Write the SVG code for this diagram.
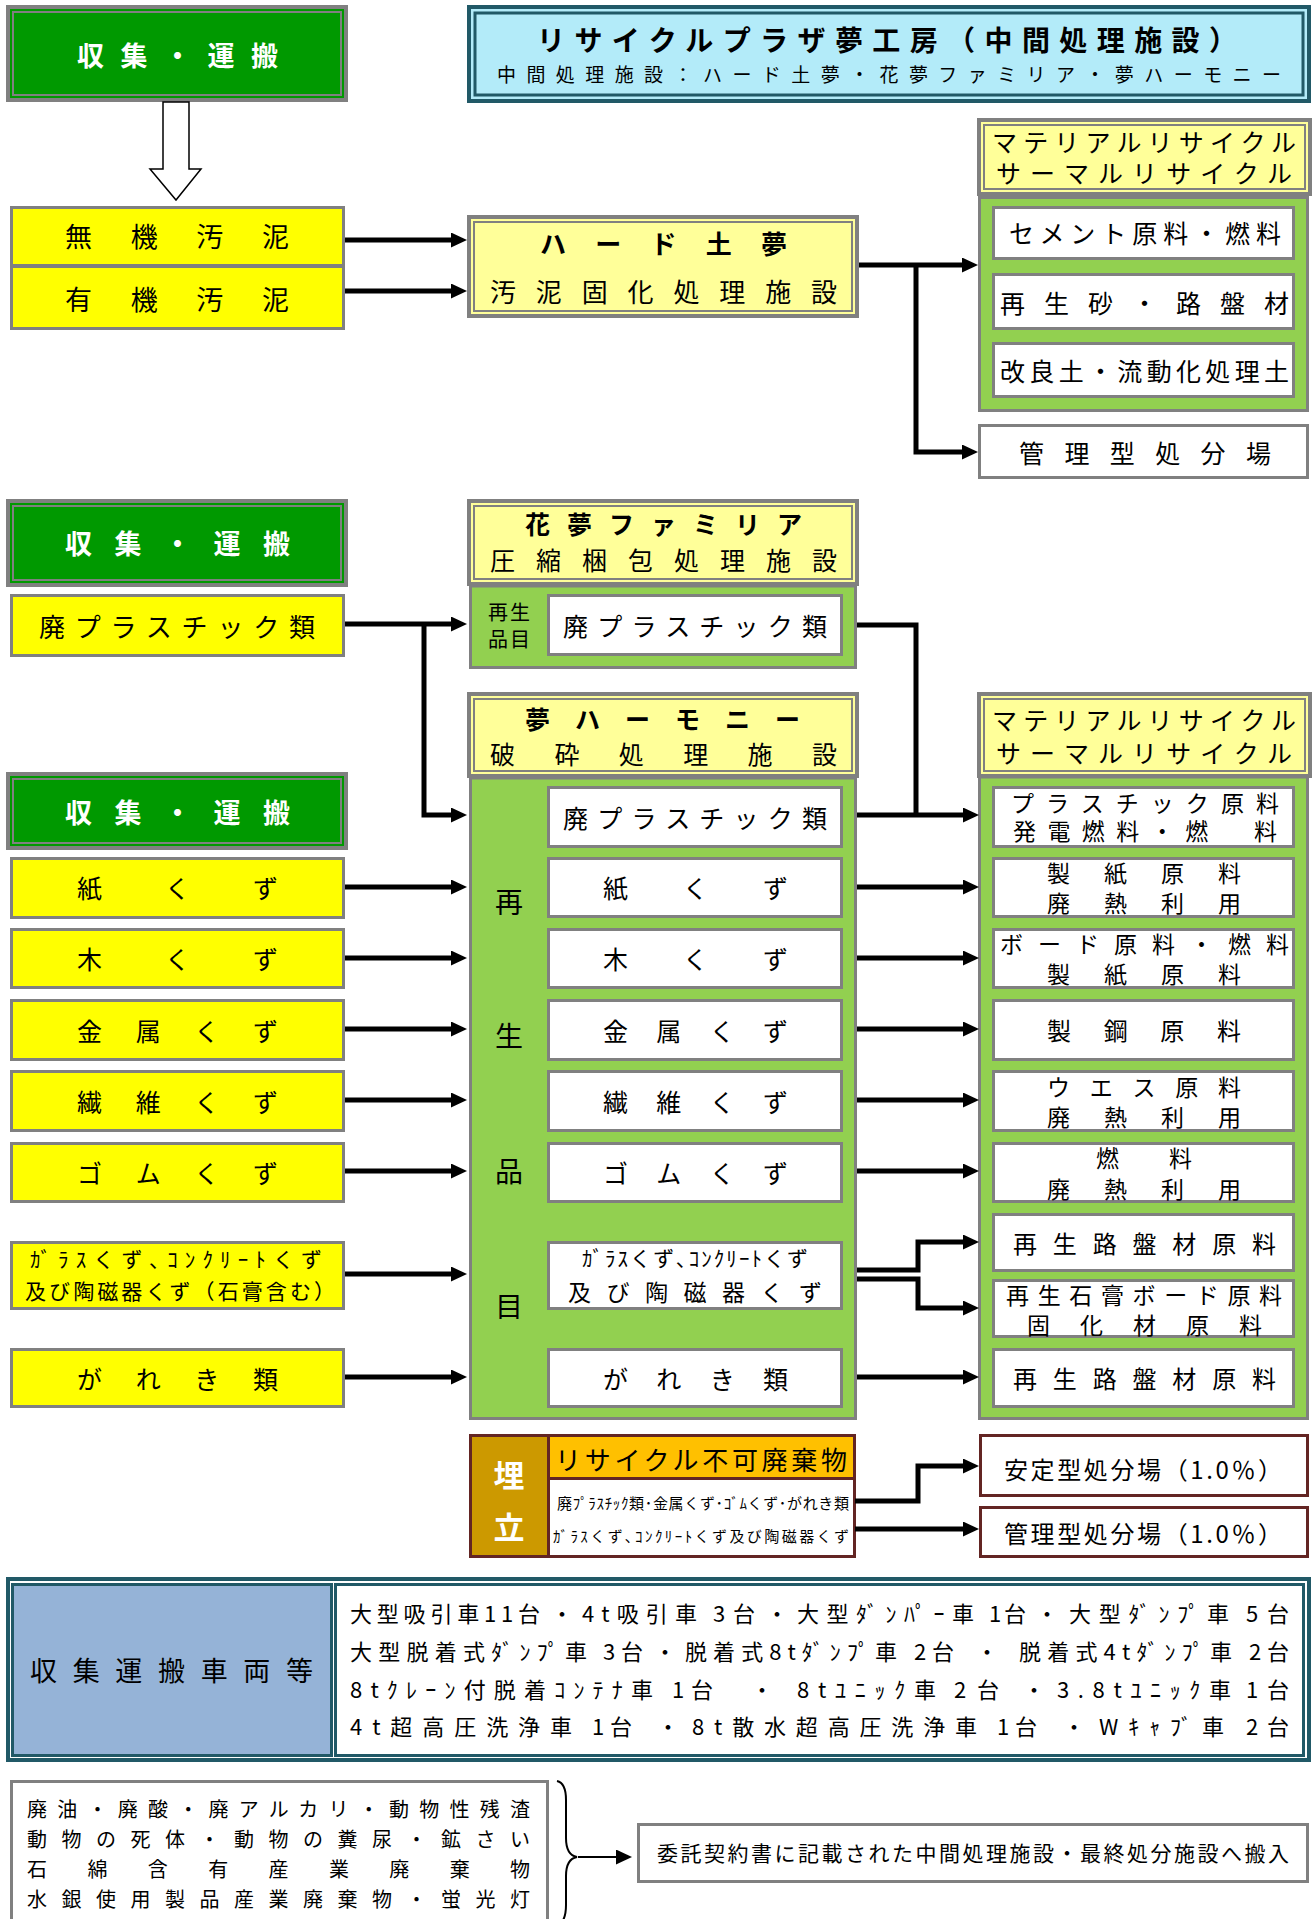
<svg xmlns="http://www.w3.org/2000/svg" width="1314" height="1919" viewBox="0 0 1314 1919">
<style>
.t{font-family:"Noto Sans CJK JP","Noto Sans CJK SC",sans-serif;dominant-baseline:central;fill:#000}
.b{font-weight:bold}
.wt{fill:#fff}
.g{fill:#009900;stroke:#808080;stroke-width:4}
.gi{fill:none;stroke:#808080;stroke-width:2}
.y{fill:#FFFF00;stroke:#808080;stroke-width:3}
.ly{fill:#FFFF99;stroke:#808080;stroke-width:4}
.lg{fill:#92D050;stroke:#808080;stroke-width:3}
.w{fill:#fff;stroke:#808080;stroke-width:3}
.tl{fill:#B3EBF9;stroke:#215967;stroke-width:4}
.tli{fill:none;stroke:#215967;stroke-width:3}
.m{stroke:#632523;stroke-width:3}
.c{fill:none;stroke:#000;stroke-width:5;stroke-linejoin:miter}
</style>
<defs>
<marker id="ah" viewBox="0 0 16 15" refX="6" refY="7.5" markerWidth="16" markerHeight="15" markerUnits="userSpaceOnUse" orient="auto"><path d="M0,0 L16,7.5 L0,15 z" fill="#000"/></marker>
<marker id="ah2" viewBox="0 0 16 15" refX="2" refY="7.5" markerWidth="16" markerHeight="15" markerUnits="userSpaceOnUse" orient="auto"><path d="M0,0 L16,7.5 L0,15 z" fill="#000"/></marker>
</defs>
<rect width="1314" height="1919" fill="#fff"/>

<!-- Title -->
<g id="title">
<rect class="tl" x="469" y="7" width="840" height="94"/>
<rect class="tli" x="475" y="13" width="828" height="82"/>
<text class="t b" x="537" y="39" font-size="28" textLength="700">リサイクルプラザ夢工房（中間処理施設）</text>
<text class="t" x="497" y="73" font-size="19" textLength="784">中間処理施設：ハード土夢・花夢ファミリア・夢ハーモニー</text>
</g>

<!-- Section 1 -->
<g id="collect1">
<rect class="g" x="8" y="7" width="338" height="93"/>
<rect class="gi" x="13" y="12" width="328" height="83"/>
<text class="t b wt" x="77" y="54" font-size="27" textLength="201">収集・運搬</text>
</g>
<g id="down-arrow">
<polygon points="163,102 189,102 189,169 201,169 176,200 150,169 163,169" fill="#fff" stroke="#000" stroke-width="1.5"/>
</g>
<g id="muki">
<rect class="y" x="11.5" y="207.5" width="332" height="58"/>
<text class="t" x="65" y="235" font-size="27" textLength="224">無機汚泥</text>
</g>
<g id="yuki">
<rect class="y" x="11.5" y="266.5" width="332" height="62"/>
<text class="t" x="65" y="298" font-size="27" textLength="224">有機汚泥</text>
</g>
<g id="hard">
<rect class="ly" x="469" y="217" width="388" height="99"/>
<rect class="gi" x="474" y="222" width="378" height="89"/>
<text class="t b" x="540" y="242" font-size="26" textLength="247">ハード土夢</text>
<text class="t" x="490" y="290" font-size="26" textLength="347">汚泥固化処理施設</text>
</g>
<g id="recycle1">
<rect class="lg" x="979.5" y="197.5" width="328" height="213"/>
<rect class="ly" x="979" y="120" width="331" height="74"/>
<rect class="gi" x="984" y="125" width="321" height="64"/>
<text class="t" x="992" y="141" font-size="25" textLength="304">マテリアルリサイクル</text>
<text class="t" x="996" y="172" font-size="25" textLength="296">サーマルリサイクル</text>
</g>
<g id="cement">
<rect class="w" x="993.5" y="207.5" width="300" height="51"/>
<text class="t" x="1009" y="232" font-size="25" textLength="272">セメント原料・燃料</text>
</g>
<g id="sand">
<rect class="w" x="993.5" y="274.5" width="300" height="54"/>
<text class="t" x="1000" y="302" font-size="25" textLength="289">再生砂・路盤材</text>
</g>
<g id="soil">
<rect class="w" x="993.5" y="343.5" width="300" height="53"/>
<text class="t" x="1000" y="370" font-size="25" textLength="289">改良土・流動化処理土</text>
</g>
<g id="kanri1">
<rect class="w" x="979.5" y="425.5" width="328" height="52"/>
<text class="t" x="1019" y="452" font-size="25" textLength="252">管理型処分場</text>
</g>

<!-- Section 2 -->
<g id="collect2">
<rect class="g" x="8" y="501" width="338" height="84"/>
<rect class="gi" x="13" y="506" width="328" height="74"/>
<text class="t b wt" x="65" y="542" font-size="27" textLength="225">収集・運搬</text>
</g>
<g id="plastic-in">
<rect class="y" x="11.5" y="595.5" width="332" height="60"/>
<text class="t" x="39" y="625" font-size="26" textLength="276">廃プラスチック類</text>
</g>
<g id="kamu">
<rect class="lg" x="470.5" y="586" width="385" height="81.5"/>
<rect class="ly" x="469" y="501" width="388" height="83"/>
<rect class="gi" x="474" y="506" width="378" height="73"/>
<text class="t b" x="525" y="523" font-size="25" textLength="277">花夢ファミリア</text>
<text class="t" x="490" y="559" font-size="25" textLength="347">圧縮梱包処理施設</text>
<text class="t" x="488" y="611" font-size="20" textLength="42">再生</text>
<text class="t" x="488" y="638" font-size="20" textLength="42">品目</text>
<rect class="w" x="548.5" y="595.5" width="293" height="59"/>
<text class="t" x="563" y="625" font-size="25" textLength="264">廃プラスチック類</text>
</g>
<g id="collect3">
<rect class="g" x="8" y="774" width="338" height="74"/>
<rect class="gi" x="13" y="779" width="328" height="64"/>
<text class="t b wt" x="65" y="811" font-size="27" textLength="225">収集・運搬</text>
</g>

<g id="inputs">
<rect class="y" x="11.5" y="858.5" width="332" height="59"/>
<text class="t" x="77" y="887" font-size="25" textLength="201">紙くず</text>
<rect class="y" x="11.5" y="929.5" width="332" height="58"/>
<text class="t" x="77" y="958" font-size="25" textLength="201">木くず</text>
<rect class="y" x="11.5" y="1000.5" width="332" height="59"/>
<text class="t" x="77" y="1030" font-size="25" textLength="201">金属くず</text>
<rect class="y" x="11.5" y="1071.5" width="332" height="59"/>
<text class="t" x="77" y="1101" font-size="25" textLength="201">繊維くず</text>
<rect class="y" x="11.5" y="1143.5" width="332" height="58"/>
<text class="t" x="77" y="1172" font-size="25" textLength="201">ゴムくず</text>
<rect class="y" x="11.5" y="1242.5" width="332" height="66"/>
<text class="t" x="30" y="1258" font-size="21" textLength="292">ｶﾞﾗｽくず､ｺﾝｸﾘｰﾄくず</text>
<text class="t" x="25" y="1290" font-size="21" textLength="310">及び陶磁器くず（石膏含む）</text>
<rect class="y" x="11.5" y="1349.5" width="332" height="57"/>
<text class="t" x="77" y="1378" font-size="25" textLength="201">がれき類</text>
</g>

<g id="harmony">
<rect class="lg" x="470.5" y="778" width="385" height="640.5"/>
<rect class="ly" x="469" y="694" width="388" height="82"/>
<rect class="gi" x="474" y="699" width="378" height="72"/>
<text class="t b" x="525" y="718" font-size="25" textLength="275">夢ハーモニー</text>
<text class="t" x="490" y="753" font-size="25" textLength="347">破砕処理施設</text>
<text class="t" x="509" y="901" font-size="28" text-anchor="middle">再</text>
<text class="t" x="509" y="1035" font-size="28" text-anchor="middle">生</text>
<text class="t" x="509" y="1170" font-size="28" text-anchor="middle">品</text>
<text class="t" x="509" y="1305" font-size="28" text-anchor="middle">目</text>
<rect class="w" x="548.5" y="787.5" width="293" height="59"/>
<text class="t" x="563" y="817" font-size="25" textLength="264">廃プラスチック類</text>
<rect class="w" x="548.5" y="858.5" width="293" height="58"/>
<text class="t" x="603" y="887" font-size="25" textLength="185">紙くず</text>
<rect class="w" x="548.5" y="929.5" width="293" height="58"/>
<text class="t" x="603" y="958" font-size="25" textLength="185">木くず</text>
<rect class="w" x="548.5" y="1000.5" width="293" height="59"/>
<text class="t" x="603" y="1030" font-size="25" textLength="185">金属くず</text>
<rect class="w" x="548.5" y="1071.5" width="293" height="59"/>
<text class="t" x="603" y="1101" font-size="25" textLength="185">繊維くず</text>
<rect class="w" x="548.5" y="1143.5" width="293" height="58"/>
<text class="t" x="603" y="1172" font-size="25" textLength="185">ゴムくず</text>
<rect class="w" x="548.5" y="1242.5" width="293" height="66"/>
<text class="t" x="582" y="1257" font-size="21" textLength="226">ｶﾞﾗｽくず､ｺﾝｸﾘｰﾄくず</text>
<text class="t" x="568" y="1291" font-size="23" textLength="254">及び陶磁器くず</text>
<rect class="w" x="548.5" y="1349.5" width="293" height="57"/>
<text class="t" x="603" y="1378" font-size="25" textLength="185">がれき類</text>
</g>

<g id="recycle2">
<rect class="lg" x="979.5" y="777" width="328" height="641.5"/>
<rect class="ly" x="979" y="694" width="331" height="82"/>
<rect class="gi" x="984" y="699" width="321" height="72"/>
<text class="t" x="992" y="719" font-size="25" textLength="304">マテリアルリサイクル</text>
<text class="t" x="996" y="752" font-size="25" textLength="296">サーマルリサイクル</text>
<rect class="w" x="993.5" y="787.5" width="300" height="59"/>
<text class="t" x="1011" y="802" font-size="23" textLength="268">プラスチック原料</text>
<text class="t" x="1013" y="830" font-size="23" textLength="264">発電燃料・燃　料</text>
<rect class="w" x="993.5" y="858.5" width="300" height="58"/>
<text class="t" x="1047" y="872" font-size="23" textLength="194">製紙原料</text>
<text class="t" x="1047" y="902" font-size="23" textLength="194">廃熱利用</text>
<rect class="w" x="993.5" y="929.5" width="300" height="58"/>
<text class="t" x="1000" y="943" font-size="23" textLength="289">ボード原料・燃料</text>
<text class="t" x="1047" y="973" font-size="23" textLength="194">製紙原料</text>
<rect class="w" x="993.5" y="1000.5" width="300" height="59"/>
<text class="t" x="1047" y="1029" font-size="24" textLength="194">製鋼原料</text>
<rect class="w" x="993.5" y="1071.5" width="300" height="59"/>
<text class="t" x="1047" y="1086" font-size="23" textLength="194">ウエス原料</text>
<text class="t" x="1047" y="1116" font-size="23" textLength="194">廃熱利用</text>
<rect class="w" x="993.5" y="1143.5" width="300" height="58"/>
<text class="t" x="1096" y="1157" font-size="23" textLength="96">燃料</text>
<text class="t" x="1047" y="1188" font-size="23" textLength="194">廃熱利用</text>
<rect class="w" x="993.5" y="1214.5" width="300" height="56"/>
<text class="t" x="1013" y="1242" font-size="24" textLength="263">再生路盤材原料</text>
<rect class="w" x="993.5" y="1280.5" width="300" height="56"/>
<text class="t" x="1006" y="1294" font-size="23" textLength="276">再生石膏ボード原料</text>
<text class="t" x="1027" y="1324" font-size="23" textLength="235">固化材原料</text>
<rect class="w" x="993.5" y="1349.5" width="300" height="57"/>
<text class="t" x="1013" y="1377" font-size="24" textLength="263">再生路盤材原料</text>
</g>

<!-- Landfill -->
<g id="landfill">
<rect x="470.5" y="1435.5" width="78" height="121" fill="#CC9900" class="m"/>
<rect x="548.5" y="1435.5" width="306" height="43" fill="#FFC000" class="m"/>
<rect x="548.5" y="1478.5" width="306" height="78" fill="#fff" class="m"/>
<text class="t b wt" x="509" y="1473" font-size="31" text-anchor="middle">埋</text>
<text class="t b wt" x="509" y="1525" font-size="31" text-anchor="middle">立</text>
<text class="t" x="555" y="1458" font-size="26" textLength="292" fill="#222">リサイクル不可廃棄物</text>
<text class="t" x="557" y="1502" font-size="15" textLength="292">廃ﾌﾟﾗｽﾁｯｸ類･金属くず･ｺﾞﾑくず･がれき類</text>
<text class="t" x="553" y="1535" font-size="15" textLength="296">ｶﾞﾗｽくず､ｺﾝｸﾘｰﾄくず及び陶磁器くず</text>
</g>
<g id="antei">
<rect x="980.5" y="1435.5" width="327" height="60" fill="#fff" class="m"/>
<text class="t" x="1004" y="1468" font-size="24" textLength="278">安定型処分場（1.0％）</text>
</g>
<g id="kanri2">
<rect x="980.5" y="1507.5" width="327" height="49" fill="#fff" class="m"/>
<text class="t" x="1004" y="1532" font-size="24" textLength="278">管理型処分場（1.0％）</text>
</g>

<!-- Vehicles -->
<g id="vehicles">
<rect x="8" y="1579" width="1301" height="181" fill="#fff" stroke="#215967" stroke-width="4"/>
<rect x="12.5" y="1584.5" width="319" height="171" fill="#95B3D7" stroke="#215967" stroke-width="3"/>
<rect x="335.5" y="1584.5" width="968" height="171" fill="#fff" stroke="#215967" stroke-width="3"/>
<text class="t" x="30" y="1669" font-size="27" textLength="283">収集運搬車両等</text>
<g font-size="22">
<text class="t" x="350" y="1612" textLength="190">大型吸引車11台</text>
<text class="t" x="562" y="1612" text-anchor="middle">・</text>
<text class="t" x="582" y="1612" textLength="115">4t吸引車</text>
<text class="t" x="713" y="1612" textLength="42">3台</text>
<text class="t" x="777" y="1612" text-anchor="middle">・</text>
<text class="t" x="797" y="1612" textLength="177">大型ﾀﾞﾝﾊﾟｰ車</text>
<text class="t" x="989" y="1612" textLength="37">1台</text>
<text class="t" x="1047" y="1612" text-anchor="middle">・</text>
<text class="t" x="1069" y="1612" textLength="160">大型ﾀﾞﾝﾌﾟ車</text>
<text class="t" x="1246" y="1612" textLength="43">5台</text>

<text class="t" x="350" y="1650" textLength="237">大型脱着式ﾀﾞﾝﾌﾟ車</text>
<text class="t" x="603" y="1650" textLength="40">3台</text>
<text class="t" x="665" y="1650" text-anchor="middle">・</text>
<text class="t" x="685" y="1650" textLength="212">脱着式8tﾀﾞﾝﾌﾟ車</text>
<text class="t" x="914" y="1650" textLength="40">2台</text>
<text class="t" x="987" y="1650" text-anchor="middle">・</text>
<text class="t" x="1019" y="1650" textLength="213">脱着式4tﾀﾞﾝﾌﾟ車</text>
<text class="t" x="1249" y="1650" textLength="40">2台</text>

<text class="t" x="350" y="1688" textLength="303">8tｸﾚｰﾝ付脱着ｺﾝﾃﾅ車</text>
<text class="t" x="672" y="1688" textLength="41">1台</text>
<text class="t" x="762" y="1688" text-anchor="middle">・</text>
<text class="t" x="797" y="1688" textLength="139">8tﾕﾆｯｸ車</text>
<text class="t" x="954" y="1688" textLength="45">2台</text>
<text class="t" x="1034" y="1688" text-anchor="middle">・</text>
<text class="t" x="1057" y="1688" textLength="174">3.8tﾕﾆｯｸ車</text>
<text class="t" x="1246" y="1688" textLength="43">1台</text>

<text class="t" x="350" y="1725" textLength="222">4t超高圧洗浄車</text>
<text class="t" x="592" y="1725" textLength="40">1台</text>
<text class="t" x="668" y="1725" text-anchor="middle">・</text>
<text class="t" x="692" y="1725" textLength="285">8t散水超高圧洗浄車</text>
<text class="t" x="997" y="1725" textLength="40">1台</text>
<text class="t" x="1074" y="1725" text-anchor="middle">・</text>
<text class="t" x="1099" y="1725" textLength="125">Wｷｬﾌﾞ車</text>
<text class="t" x="1246" y="1725" textLength="43">2台</text>
</g>
</g>

<!-- Other waste -->
<g id="others">
<rect class="w" x="11.5" y="1781.5" width="536" height="150"/>
<g font-size="20">
<text class="t" x="27" y="1808" textLength="503">廃油・廃酸・廃アルカリ・動物性残渣</text>
<text class="t" x="27" y="1838" textLength="503">動物の死体・動物の糞尿・鉱さい</text>
<text class="t" x="27" y="1868" textLength="503">石綿含有産業廃棄物</text>
<text class="t" x="27" y="1898" textLength="503">水銀使用製品産業廃棄物・蛍光灯</text>
</g>
</g>
<g id="brace">
<path d="M557,1781 Q566,1783 566,1800 L566,1838 Q566,1855 577,1857 Q566,1859 566,1876 L566,1905 Q566,1920 559,1925" fill="none" stroke="#000" stroke-width="2"/>
</g>
<g id="itaku">
<rect class="w" x="638.5" y="1824.5" width="669" height="57"/>
<text class="t" x="657" y="1852" font-size="21" textLength="632">委託契約書に記載された中間処理施設・最終処分施設へ搬入</text>
</g>

<!-- Connectors -->
<g id="connectors" class="c">
<path d="M345,240 H457" marker-end="url(#ah)"/>
<path d="M345,291 H457" marker-end="url(#ah)"/>
<path d="M859,265 H968" marker-end="url(#ah)"/>
<path d="M916,265 V452 H968" marker-end="url(#ah)"/>
<path d="M345,624 H457" marker-end="url(#ah)"/>
<path d="M424,624 V815 H457" marker-end="url(#ah)"/>
<path d="M857,625 H916 V815"/>
<path d="M857,815 H969" marker-end="url(#ah)"/>
<path d="M345,887 H457" marker-end="url(#ah)"/>
<path d="M345,958 H457" marker-end="url(#ah)"/>
<path d="M345,1029 H457" marker-end="url(#ah)"/>
<path d="M345,1100 H457" marker-end="url(#ah)"/>
<path d="M345,1171 H457" marker-end="url(#ah)"/>
<path d="M345,1274 H457" marker-end="url(#ah)"/>
<path d="M345,1377 H457" marker-end="url(#ah)"/>
<path d="M857,887 H969" marker-end="url(#ah)"/>
<path d="M857,958 H969" marker-end="url(#ah)"/>
<path d="M857,1029 H969" marker-end="url(#ah)"/>
<path d="M857,1100 H969" marker-end="url(#ah)"/>
<path d="M857,1171 H969" marker-end="url(#ah)"/>
<path d="M857,1270 H918 V1242 H969" marker-end="url(#ah)"/>
<path d="M857,1279 H918 V1308 H969" marker-end="url(#ah)"/>
<path d="M857,1377 H969" marker-end="url(#ah)"/>
<path d="M855,1501 H918 V1466 H969" marker-end="url(#ah)"/>
<path d="M855,1529 H969" marker-end="url(#ah)"/>
<path d="M578,1857 H618" stroke-width="2" marker-end="url(#ah2)"/>
</g>
</svg>
